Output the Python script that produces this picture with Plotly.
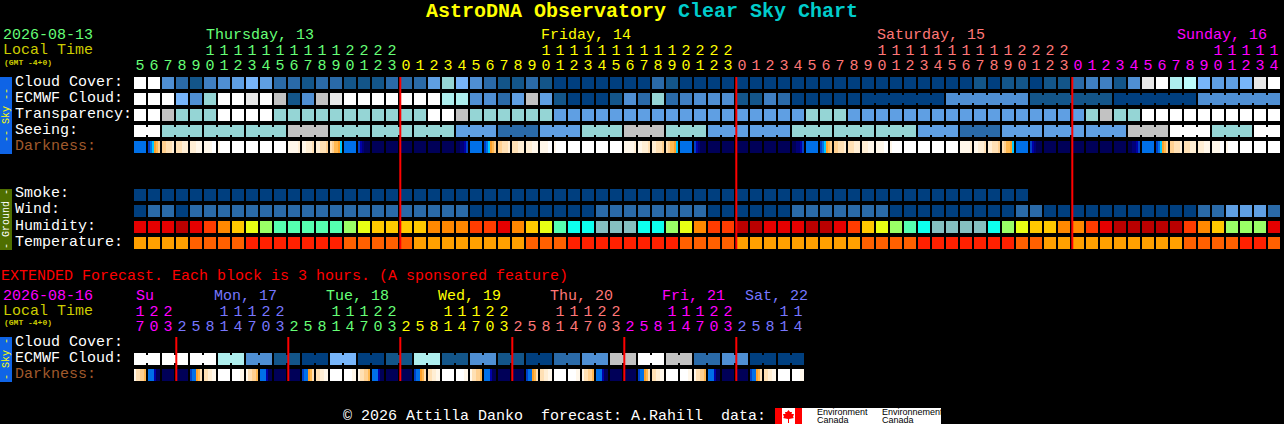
"""Clear Sky Chart: grade blocks per hour, drawn as plotly bars."""

import plotly.graph_objects as go

W, H = 1284, 424
FONT = "Liberation Mono"

# hour of each column in the 48 h forecast
HOURS = [5, 6, 7, 8, 9, 10, 11, 12, 13, 14, 15, 16, 17, 18, 19, 20, 21, 22, 23,
         0, 1, 2, 3, 4, 5, 6, 7, 8, 9, 10, 11, 12, 13, 14, 15, 16, 17, 18, 19, 20, 21, 22, 23,
         0, 1, 2, 3, 4, 5, 6, 7, 8, 9, 10, 11, 12, 13, 14, 15, 16, 17, 18, 19, 20, 21, 22, 23,
         0, 1, 2, 3, 4, 5, 6, 7, 8, 9, 10, 11, 12, 13, 14]
EXT_HOURS = [17, 20, 23,
             2, 5, 8, 11, 14, 17, 20, 23,
             2, 5, 8, 11, 14, 17, 20, 23,
             2, 5, 8, 11, 14, 17, 20, 23,
             2, 5, 8, 11, 14, 17, 20, 23,
             2, 5, 8, 11, 14, 17, 20, 23,
             2, 5, 8, 11, 14]
MIDNIGHTS = [19, 43, 67]
EXT_MIDNIGHTS = [3, 11, 19, 27, 35, 43]

# cores dos blocos
SKY = {"a": "#003f7f", "b": "#135589", "c": "#2a6aa8", "d": "#3f7fc2", "e": "#4f8fd3",
       "f": "#5f9fe3", "g": "#77b5fa", "h": "#95d5d5", "i": "#aeeeee", "j": "#bcfcfc",
       "k": "#c2c2c2", "l": "#e8e8e8", "m": "#ffffff"}
DARK = {"n": "#000058", "o": "#000078", "p": "#0000a8", "q": "#0040c8", "r": "#0070e8",
        "s": "#00c8ff", "t": "#ffa028", "u": "#ffb850", "v": "#ffd090", "w": "#ffe0b4",
        "x": "#ffeed4", "y": "#fff7ea", "z": "#ffffff"}
HUMID = {"D": "#b90000", "R": "#e60000", "S": "#ff3c00", "O": "#ff8800", "A": "#ffc800",
         "Y": "#e8ff14", "L": "#9aff66", "M": "#55ffb0", "C": "#0dffee", "G": "#85c0c0"}
TEMP = {"O": "#ffa000", "P": "#ff6000", "R": "#ff2000"}

CLOUD = "mmecbdefgfccbccbbbccc" "fhgecbbcbaaaaaaacbaaaaaaaaaaaa" "aaaaaaaaababbabbcddbelmijgffglm"
ECMWF = "mmmgehmmlmkbeklmmmmmm" "miieecfkfbaaabechcdeeebbdcaaaa" "a" "aaaaaa" "eeeeee" "bbbbbb" "aaaaaa" "eeeeee"
TRANSPARENCY = "mmkhhhmmmmhhhhhhhhhhh" "mmkhhhhhhffffffffffffffffff" "hhh" "fffffffffffffffff" "hkhh" "mmmmmmmmmm"
SEEING = ("mm" "hhhhhhhhh" "kkk" "hhhhhhhhh" "fff" "ccc" "fff" "hhh" "kkk" "hhh" "ffffff"
          "hhhhhhhhh" "fff" "ccc" "fffffffff" "kkk" "mmm" "hhh" "mm")
SMOKE = "a" * 64
WIND = "acca" "cccccccccccccccccccc" "aaaaaaaaa" "cccccccc" "aaaaaa" "ccccccc" "aaaaaaaaa" "cc" "aaaaaaaaaaa" "cc" "fff" "c"
HUMIDITY = "RRRDRSOAYLMMMMMLYAAAA" "OOOSSROAYMCCGGGCCLYOSSDDRRRDDRS" "AYLMCGGGGCLYAAOOSRDDDDDSOALLLR"
TEMPERATURE = "OOOOPPPPRRRRRRRPPPPPOOOOOOOOPPPRRRRRRRRPPPPOOOOOOOOOPPPPRRRRRRRPPOOOOOOOOOOPPPPRRP"

SEEING_STARTS = [0, 2, 5, 8, 11, 14, 17, 20, 23, 26, 29, 32, 35, 38, 41, 44, 47, 50, 53,
                 56, 59, 62, 65, 68, 71, 74, 77, 80]
ECMWF_STARTS = list(range(0, 53)) + [58, 64, 70, 76]

# darkness: each block holds six narrow strips
DARKNESS = [
    "rrrrrr", "qrstuv", "vvwwwx", "wwwxxx", "xxxyyy", "yyyyzz", "yzzzzz", "zzzzzz", "zzzzzz", "zzzzzz",
    "zzzzzz", "yyyyyx", "yyxxxw", "xxwwwv", "wvuuts", "rrrrrr", "qponnn", "nnnnnn", "nnnnnn",
    "nnnnnn", "nnnnnn", "nnnnnn", "nnnnnn", "nnoopq",
    "rrrrrr", "qrstuv", "vvwwwx", "wwwxxx", "xxxyyy", "yyyyzz", "yzzzzz", "zzzzzz", "zzzzzz", "zzzzzz",
    "zzzzzz", "yyyyyx", "yyxxxw", "xxwwwv", "wvuuts", "rrrrrr", "qponnn", "nnnnnn", "nnnnnn",
    "nnnnnn", "nnnnnn", "nnnnnn", "nnnnnn", "nnoopq",
    "rrrrrr", "qrstuv", "vvwwwx", "wwwxxx", "xxxyyy", "yyyyzz", "yzzzzz", "zzzzzz", "zzzzzz", "zzzzzz",
    "zzzzzz", "yyyyyx", "yyxxxw", "xxwwwv", "wvuuts", "rrrrrr", "qponnn", "nnnnnn", "nnnnnn",
    "nnnnnn", "nnnnnn", "nnnnnn", "nnnnnn", "nnoopq",
    "rrrrrr", "qrstuv", "vvwwwx", "wwwxxx", "xxxyyy", "yyyyzz", "yzzzzz", "zzzzzz", "zzzzzz", "zzzzzz",
]

EXT_ECMWF = "mmmmmmiieebbaaggaabbiibbeebbaacceekkmmkkcceeaaaa"
EXT_DARKNESS = [
    "ywwvvu", "rrrpnn", "nnnnnn",
    "nnnnnn", "qrrtuw", "wwxxyy", "zzzzzz", "zzzzyy", "ywwvvu", "rrrpnn", "nnnnnn",
    "nnnnnn", "qrrtuw", "wwxxyy", "zzzzzz", "zzzzyy", "ywwvvu", "rrrpnn", "nnnnnn",
    "nnnnnn", "qrrtuw", "wwxxyy", "zzzzzz", "zzzzyy", "ywwvvu", "rrrpnn", "nnnnnn",
    "nnnnnn", "qrrtuw", "wwxxyy", "zzzzzz", "zzzzyy", "ywwvvu", "rrrpnn", "nnnnnn",
    "nnnnnn", "qrrtuw", "wwxxyy", "zzzzzz", "zzzzyy", "ywwvvu", "rrrpnn", "nnnnnn",
    "nnnnnn", "qrrtuw", "wwxxyy", "zzzzzz", "zzzzyy",
]

GREEN, YELLOW, SALMON, MAGENTA, BLUE = "#66ff77", "#ffff00", "#ff7777", "#ff00ff", "#7777ff"
DAY_COLUMNS = [(19, GREEN), (24, YELLOW), (24, SALMON), (15, MAGENTA)]
EXT_DAY_COLUMNS = [(3, MAGENTA), (8, BLUE), (8, GREEN), (8, YELLOW), (8, SALMON), (8, MAGENTA), (5, BLUE)]

EXT_ROW = 16.25  # row of the extended "Cloud Cover" line
BLOCK_W = 12 / 14
BLOCK_H = 0.75


def add_blocks(fig, codes, palette, row):
    cols = [i for i, c in enumerate(codes) if c in palette]
    fig.add_trace(go.Bar(
        x=cols, y=[BLOCK_H] * len(cols), base=[row - BLOCK_H / 2] * len(cols), width=BLOCK_W,
        marker=dict(color=[palette[codes[i]] for i in cols], line_width=0),
    ))


def add_links(fig, codes, palette, row, starts):
    # short bridge between blocks of the same model step
    cols = [i for i in range(1, len(codes)) if i not in starts]
    fig.add_trace(go.Bar(
        x=[i - 0.5 for i in cols], y=[0.5] * len(cols), base=[row - 0.25] * len(cols), width=2 / 14,
        marker=dict(color=[palette[codes[i]] for i in cols], line_width=0),
    ))


def add_strips(fig, blocks, row):
    xs, colors = [], []
    for i, strips in enumerate(blocks):
        for k, c in enumerate(strips):
            xs.append(i + (k - 2.5) * 2 / 14)
            colors.append(DARK[c])
    fig.add_trace(go.Bar(
        x=xs, y=[BLOCK_H] * len(xs), base=[row - BLOCK_H / 2] * len(xs), width=2 / 14,
        marker=dict(color=colors, line_width=0),
    ))


def add_hours(fig, hours, day_columns, tens_row, units_row):
    colors = []
    for n, c in day_columns:
        colors += [c] * n
    fig.add_trace(go.Scatter(
        x=list(range(len(hours))), y=[units_row] * len(hours), mode="text",
        text=[str(h % 10) for h in hours],
        textfont=dict(family=FONT, size=15, color=colors), textposition="middle center",
    ))
    cols = [i for i, h in enumerate(hours) if h >= 10]
    fig.add_trace(go.Scatter(
        x=cols, y=[tens_row] * len(cols), mode="text",
        text=[str(hours[i] // 10) for i in cols],
        textfont=dict(family=FONT, size=15, color=[colors[i] for i in cols]), textposition="middle center",
    ))


def add_day_lines(fig, cols, top, bottom):
    xs, ys = [], []
    for c in cols:
        xs += [c - 6 / 14 + 0.3 / 14, c - 6 / 14 + 0.3 / 14, None]
        ys += [top, bottom, None]
    fig.add_trace(go.Scatter(x=xs, y=ys, mode="lines", line=dict(color="#ff0000", width=2)))


fig = go.Figure()

add_blocks(fig, CLOUD, SKY, 0)
add_blocks(fig, ECMWF, SKY, 1)
add_links(fig, ECMWF, SKY, 1, ECMWF_STARTS)
add_blocks(fig, TRANSPARENCY, SKY, 2)
add_blocks(fig, SEEING, SKY, 3)
add_links(fig, SEEING, SKY, 3, SEEING_STARTS)
add_strips(fig, DARKNESS, 4)
add_blocks(fig, SMOKE, SKY, 7)
add_blocks(fig, WIND, SKY, 8)
add_blocks(fig, HUMIDITY, HUMID, 9)
add_blocks(fig, TEMPERATURE, TEMP, 10)

add_blocks(fig, EXT_ECMWF, SKY, EXT_ROW + 1)
add_links(fig, EXT_ECMWF, SKY, EXT_ROW + 1, list(range(0, 48, 2)))
add_strips(fig, EXT_DARKNESS, EXT_ROW + 2)

add_day_lines(fig, MIDNIGHTS, -BLOCK_H / 2, 10 + BLOCK_H / 2)
add_day_lines(fig, EXT_MIDNIGHTS, EXT_ROW - BLOCK_H / 2, EXT_ROW + 2 + BLOCK_H / 2)

add_hours(fig, HOURS, DAY_COLUMNS, -1.99, -1.05)
add_hours(fig, EXT_HOURS, EXT_DAY_COLUMNS, 14.32, 15.26)

annotations = []


def label(text, x, y, color="#ffffff", size=15, family=FONT, **kw):
    annotations.append(dict(
        text=text, x=x / W, y=1 - y / H, xref="paper", yref="paper", xanchor=kw.pop("xanchor", "left"),
        yanchor="middle", showarrow=False, borderpad=0,
        font=dict(family=family, size=size, color=color), **kw,
    ))


label('<b><span style="color:#ffff00">AstroDNA Observatory</span> '
      '<span style="color:#00cccc">Clear Sky Chart</span></b>', 642, 12, size=20, xanchor="center")

label("2026-08-13", 2, 36, GREEN)
label("Local Time", 2, 51, "#cccc00")
label("<b>(GMT -4+0)</b>", 3, 62, "#cccc00", size=8)
label("Thursday, 13", 205, 36, GREEN)
label("Friday, 14", 540, 36, YELLOW)
label("Saturday, 15", 876, 36, SALMON)
label("Sunday, 16", 1176, 36, MAGENTA)

for text, y in [("Cloud Cover:", 82), ("ECMWF Cloud:", 98), ("Transparency:", 114), ("Seeing:", 130),
                ("Smoke:", 194), ("Wind:", 210), ("Humidity:", 226), ("Temperature:", 242),
                ("Cloud Cover:", 342), ("ECMWF Cloud:", 358)]:
    label(text, 14, y)
label("Darkness:", 14, 146, "#a05a2c")
label("Darkness:", 14, 374, "#a05a2c")

label("EXTENDED Forecast. Each block is 3 hours. (A sponsored feature)", 0, 276, "#ff0000")

label("2026-08-16", 2, 296, MAGENTA)
label("Local Time", 2, 311, "#cccc00")
label("<b>(GMT -4+0)</b>", 3, 322, "#cccc00", size=8)
for text, x, c in [("Su", 135, MAGENTA), ("Mon, 17", 213, BLUE), ("Tue, 18", 325, GREEN), ("Wed, 19", 437, YELLOW),
                   ("Thu, 20", 549, SALMON), ("Fri, 21", 661, MAGENTA), ("Sat, 22", 744, BLUE)]:
    label(text, x, 296, c)

label("© 2026 Attilla Danko  forecast: A.Rahill  data:", 342, 416)

label("-- Sky --", 6, 115, "#ffff00", size=10, textangle=-90, xanchor="center")
label("- Ground -", 6, 219, "#ffffff", size=10, textangle=-90, xanchor="center")
label("- Sky -", 6, 359, "#ffff00", size=10, textangle=-90, xanchor="center")

label("Environment", 816, 412, "#000000", size=9, family="Liberation Sans")
label("Canada", 816, 420, "#000000", size=9, family="Liberation Sans")
label("Environnement", 881, 412, "#000000", size=9, family="Liberation Sans")
label("Canada", 881, 420, "#000000", size=9, family="Liberation Sans")


def rect(x0, y0, x1, y1, color):
    return dict(type="rect", xref="paper", yref="paper", x0=x0 / W, x1=x1 / W, y0=1 - y0 / H, y1=1 - y1 / H,
                fillcolor=color, line_width=0, layer="below")


shapes = [
    rect(0, 77, 12, 154, "#0f64e6"),
    rect(0, 189, 12, 250, "#4f6f00"),
    rect(0, 337, 12, 382, "#0f64e6"),
    rect(775, 408, 941, 424, "#ffffff"),
    rect(775, 408, 782, 424, "#ff0000"),
    rect(795, 408, 802, 424, "#ff0000"),
]
# folha do logo
leaf = [(788.5, 410), (790, 412), (792, 412), (791.5, 414), (794, 414), (793, 417), (794, 418),
        (789, 419), (789, 423), (788, 423), (788, 419), (783, 418), (784, 417), (783, 414),
        (785.5, 414), (785, 412), (787, 412)]
shapes.append(dict(
    type="path", xref="paper", yref="paper", fillcolor="#ff0000", line_width=0,
    path="M " + " L ".join(f"{x / W:.5f},{1 - y / H:.5f}" for x, y in leaf) + " Z",
))

fig.update_layout(
    width=W, height=H, margin=dict(l=0, r=0, t=0, b=0), autosize=False,
    paper_bgcolor="#000000", plot_bgcolor="#000000", showlegend=False,
    barmode="overlay", hovermode=False,
    xaxis=dict(visible=False, range=[-140 / 14, (W - 140) / 14], fixedrange=True),
    yaxis=dict(visible=False, range=[(H - 83) / 16, -83 / 16], fixedrange=True),
    annotations=annotations, shapes=shapes,
)

fig.write_html(
    "out.html",
    config={"displayModeBar": False},
    post_script="document.body.style.margin='0';document.body.style.background='#000';"
                "document.documentElement.style.overflow='hidden';",
)
